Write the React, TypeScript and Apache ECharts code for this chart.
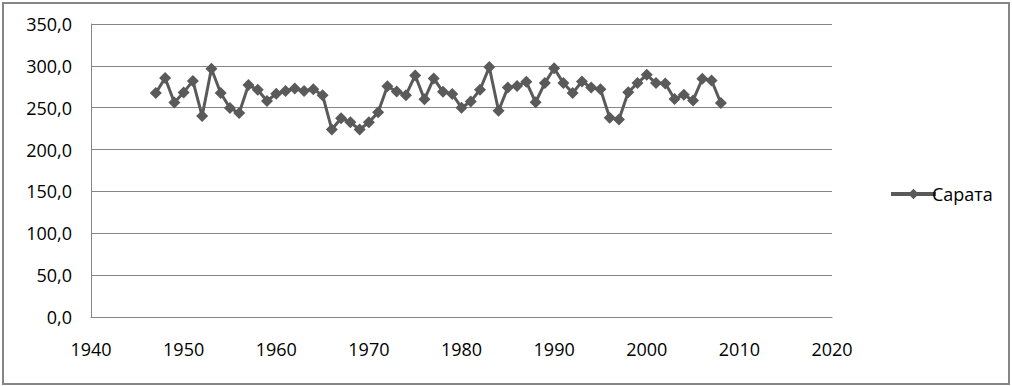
import React, { useEffect, useRef } from "react";
import * as echarts from "echarts";

const years: number[] = [
  1947, 1948, 1949, 1950, 1951, 1952, 1953, 1954, 1955, 1956,
  1957, 1958, 1959, 1960, 1961, 1962, 1963, 1964, 1965, 1966,
  1967, 1968, 1969, 1970, 1971, 1972, 1973, 1974, 1975, 1976,
  1977, 1978, 1979, 1980, 1981, 1982, 1983, 1984, 1985, 1986,
  1987, 1988, 1989, 1990, 1991, 1992, 1993, 1994, 1995, 1996,
  1997, 1998, 1999, 2000, 2001, 2002, 2003, 2004, 2005, 2006,
  2007, 2008,
];

const sarata: number[] = [
  267.5, 285.5, 256.3, 268.3, 282.0, 240.0, 296.5, 267.5, 249.6, 243.7,
  277.0, 271.4, 258.0, 266.7, 270.0, 273.0, 270.0, 272.0, 265.0, 224.0,
  237.5, 232.5, 224.0, 232.5, 244.5, 275.5, 269.4, 265.0, 288.5, 260.0,
  285.0, 269.0, 266.5, 250.0, 257.5, 271.4, 298.5, 246.4, 274.0, 276.0,
  281.0, 256.5, 279.4, 297.2, 279.4, 267.5, 281.3, 274.0, 272.2, 238.0,
  236.0, 268.5, 279.4, 289.3, 279.4, 279.0, 260.5, 265.5, 258.7, 284.5,
  282.5, 255.6,
];

const seriesName = "Сарата";
const xMin = 1940;
const xMax = 2020;
const xStep = 10;
const yMin = 0;
const yMax = 350;
const yStep = 50;

export default function App() {
  const ref = useRef<HTMLDivElement>(null);

  useEffect(() => {
    document.body.style.margin = "0";
    if (!ref.current) return;
    const chart = echarts.init(ref.current, undefined, { renderer: "svg" });
    const font = "'Open Sans', 'DejaVu Sans', sans-serif";
    const data = years.map((y, i) => [y, sarata[i]]);
    chart.setOption({
      animation: false,
      backgroundColor: "#ffffff",
      textStyle: { fontFamily: font },
      grid: { left: 91, right: 180, top: 24, bottom: 69 },
      xAxis: {
        type: "value",
        min: xMin,
        max: xMax,
        interval: xStep,
        axisLine: { show: true, lineStyle: { color: "#868686", width: 1 } },
        axisTick: { show: false },
        splitLine: { show: false },
        axisLabel: {
          color: "#000000",
          fontSize: 18,
          fontFamily: font,
          margin: 23,
          formatter: (v: number) => String(v),
        },
      },
      yAxis: {
        type: "value",
        min: yMin,
        max: yMax,
        interval: yStep,
        axisLine: { show: true, lineStyle: { color: "#868686", width: 1 } },
        axisTick: { show: false },
        splitLine: { show: true, lineStyle: { color: "#868686", width: 1 } },
        axisLabel: {
          color: "#000000",
          fontSize: 18,
          fontFamily: font,
          margin: 19,
          formatter: (v: number) => v.toFixed(1).replace(".", ","),
        },
      },
      legend: {
        show: true,
        left: 884,
        top: 180,
        orient: "vertical",
        itemWidth: 45,
        itemHeight: 13,
        itemGap: 0,
        lineStyle: { color: "#5a5a5a", width: 4 },
        itemStyle: { color: "#5a5a5a" },
        textStyle: { color: "#000000", fontSize: 18, fontFamily: font, padding: [0, 0, 0, -9] },
        data: [seriesName],
      },
      graphic: [
        {
          type: "rect",
          shape: { x: 3, y: 3, width: 1006, height: 381 },
          style: { fill: "none", stroke: "#868686", lineWidth: 2 },
          silent: true,
        },
      ],
      series: [
        {
          name: seriesName,
          type: "line",
          data,
          symbol: "diamond",
          symbolSize: 12,
          showAllSymbol: true,
          itemStyle: { color: "#5a5a5a" },
          lineStyle: { color: "#5a5a5a", width: 3 },
        },
      ],
    });
    return () => chart.dispose();
  }, []);

  return <div ref={ref} style={{ width: 1012, height: 386 }} />;
}
